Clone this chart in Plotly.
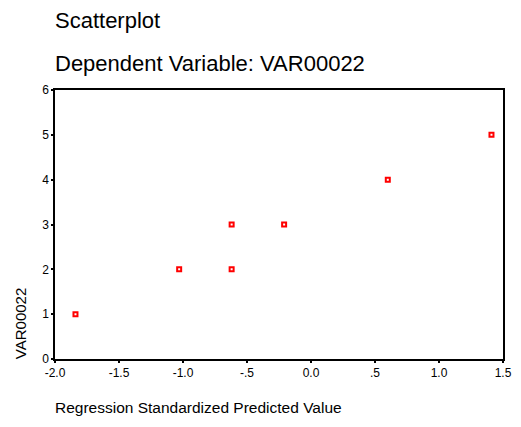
import plotly.graph_objects as go

# Standardized predicted values and observed VAR00022
pred_std = [-1.84, -1.03, -0.62, -0.62, -0.21, 0.60, 1.41]
var00022 = [1, 2, 3, 2, 3, 4, 5]

x_ticks = [-2.0, -1.5, -1.0, -0.5, 0.0, 0.5, 1.0, 1.5]
x_tick_text = ["-2.0", "-1.5", "-1.0", "-.5", "0.0", ".5", "1.0", "1.5"]
y_ticks = [0, 1, 2, 3, 4, 5, 6]

W, H = 521, 427
ML, MR, MT, MB = 55, 9, 90, 68

fig = go.Figure()
fig.add_trace(go.Scatter(
    x=pred_std, y=var00022, mode="markers",
    marker=dict(symbol="square-open", size=4, color="#ff0000",
                line=dict(width=2, color="#ff0000")),
    showlegend=False, hoverinfo="x+y",
))

font = "Arial, Liberation Sans, sans-serif"
axis_common = dict(
    showgrid=False, zeroline=False, showline=True, linecolor="#000000",
    linewidth=1.5, mirror=True, ticks="outside", ticklen=2, tickwidth=2,
    tickcolor="#000000", tickfont=dict(size=12, family=font, color="#000000"),
)
fig.update_layout(
    width=W, height=H,
    margin=dict(l=ML, r=MR, t=MT, b=MB),
    paper_bgcolor="white", plot_bgcolor="white",
    font=dict(family=font, color="#000000"),
    xaxis=dict(range=[-2.0, 1.5], tickvals=x_ticks, ticktext=x_tick_text, **axis_common),
    yaxis=dict(range=[0, 6], tickvals=y_ticks, **axis_common),
)

# Titles placed in pixel terms relative to the plot area
plot_w = W - ML - MR
plot_h = H - MT - MB


def px_x(px):
    return (px - ML) / plot_w


def px_y(py):
    return (H - MB - py) / plot_h


fig.add_annotation(text="Scatterplot", x=px_x(53), y=px_y(20), xref="paper", yref="paper",
                   xanchor="left", yanchor="middle", showarrow=False,
                   font=dict(size=22, family=font, color="#000000"))
fig.add_annotation(text="Dependent Variable: VAR00022", x=px_x(53), y=px_y(63),
                   xref="paper", yref="paper", xanchor="left", yanchor="middle",
                   showarrow=False, font=dict(size=22, family=font, color="#000000"))
fig.add_annotation(text="VAR00022", x=px_x(20), y=px_y(361), xref="paper", yref="paper",
                   xanchor="center", yanchor="bottom", textangle=-90, showarrow=False,
                   font=dict(size=15, family=font, color="#000000"))
fig.add_annotation(text="Regression Standardized Predicted Value", x=px_x(53), y=px_y(407),
                   xref="paper", yref="paper", xanchor="left", yanchor="middle",
                   showarrow=False, font=dict(size=15.5, family=font, color="#000000"))

fig.write_html("out.html")
